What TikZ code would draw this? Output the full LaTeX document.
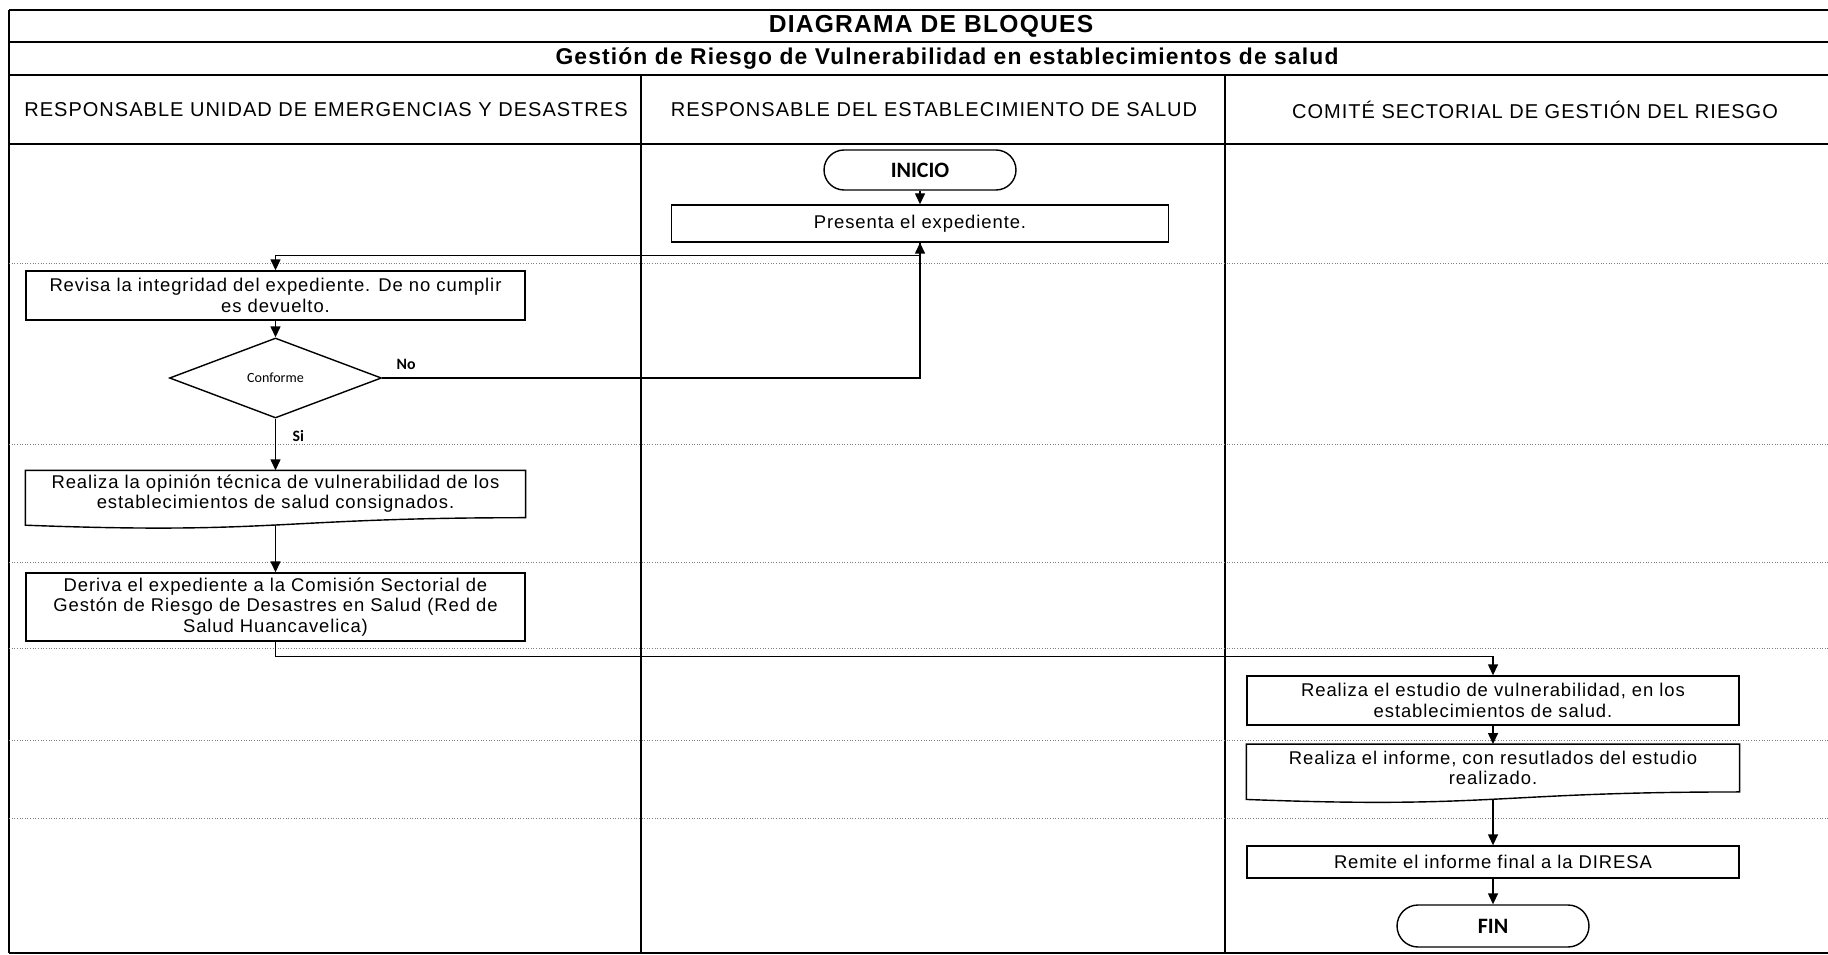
\documentclass[tikz,border=0pt]{standalone}
\usepackage{fontspec}
\setmainfont[LetterSpace=5]{Liberation Sans}
\newfontfamily\calibri{Carlito}
\usetikzlibrary{shapes.geometric,arrows.meta,calc}

\tikzstyle{line} = [draw, line width=0.8pt]
\tikzstyle{flecha} = [line, -{Triangle[length=2.2mm,width=2mm]}]
\tikzstyle{carril} = [draw, gray, densely dotted, line width=0.5pt]
\tikzstyle{proceso} = [draw, line width=0.8pt, align=center, inner sep=2pt, font=\fontsize{10.5}{11.5}\selectfont]
\tikzstyle{documento} = [proceso, draw=none]
\tikzstyle{terminal} = [draw, line width=0.8pt, rounded corners=0.4cm, minimum width=3.84cm, minimum height=0.8cm, font=\calibri\bfseries\fontsize{12.5}{14}\selectfont]
\tikzstyle{decision} = [draw, diamond, aspect=2.65, inner sep=0pt, line width=0.8pt, minimum width=4.24cm, minimum height=1.6cm, font=\calibri\fontsize{8}{9}\selectfont]
\tikzstyle{cabecera} = [font=\fontsize{11.4}{13}\selectfont]
\tikzstyle{etiqueta} = [font=\calibri\bfseries\fontsize{9}{10}\selectfont]

% caja con el borde inferior ondulado
\newcommand{\ondaabajo}[1]{%
  \draw[line] (#1.north west) -- (#1.north east) -- (#1.south east)
    .. controls (#1.south) and ($(#1.south)+(0,-17)$) .. ($(#1.south west)+(0,-7.5)$) -- cycle;}

\begin{document}
\begin{tikzpicture}[x=0.02cm,y=0.02cm]
\useasboundingbox (0,0) rectangle (1828,-955);
%marco
\draw[line] (9,-10) -- (1828,-10);
\draw[line] (9,-42) -- (1828,-42);
\draw[line] (9,-75) -- (1828,-75);
\draw[line] (9,-144) -- (1828,-144);
\draw[line] (9,-953) -- (1828,-953);
\draw[line] (9,-10) -- (9,-953);
\draw[line] (641,-75) -- (641,-953);
\draw[line] (1225,-75) -- (1225,-953);
%carriles
\foreach \y in {263,444,562,648,740,818}
  \path[carril] (9,-\y) -- (1828,-\y);

\node[font=\bfseries\fontsize{14}{16}\selectfont] (titulo) at (931,-26) {DIAGRAMA DE BLOQUES};
\node[font=\bfseries\fontsize{13}{15}\selectfont] (subtitulo) at (947,-58.5) {Gestión de Riesgo de Vulnerabilidad en establecimientos de salud};
\node[cabecera] (unidad) at (326,-110) {RESPONSABLE UNIDAD DE EMERGENCIAS Y DESASTRES};
\node[cabecera] (establecimiento) at (934,-110) {RESPONSABLE DEL ESTABLECIMIENTO DE SALUD};
\node[cabecera] (comite) at (1535,-110) {COMITÉ SECTORIAL DE GESTIÓN DEL RIESGO};

\node[terminal] (inicio) at (920,-170) {INICIO};
\node[proceso, minimum width=9.94cm, minimum height=0.74cm] (presenta) at (920,-223.5) {Presenta el expediente.};
\node[proceso, minimum width=9.98cm, minimum height=0.98cm] (revisa) at (275.5,-295.5) {Revisa la integridad del expediente. De no cumplir\\es devuelto.};
\node[decision] (conforme) at (275.5,-378) {Conforme};
\node[documento, minimum width=9.98cm, minimum height=0.92cm] (opinion) at (275.5,-494) {Realiza la opinión técnica de vulnerabilidad de los\\establecimientos de salud consignados.};
\ondaabajo{opinion}
\coordinate (opinionfondo) at ($(opinion.south)+(0,-7.3)$);
\node[proceso, minimum width=9.98cm, minimum height=1.36cm] (deriva) at (275.5,-607) {Deriva el expediente a la Comisión Sectorial de\\Gestón de Riesgo de Desastres en Salud (Red de\\Salud Huancavelica)};
\node[proceso, minimum width=9.84cm, minimum height=0.98cm] (estudio) at (1493,-700.5) {Realiza el estudio de vulnerabilidad, en los\\establecimientos de salud.};
\node[documento, minimum width=9.84cm, minimum height=0.93cm] (informe) at (1493,-768) {Realiza el informe, con resutlados del estudio\\realizado.};
\ondaabajo{informe}
\coordinate (informefondo) at ($(informe.south)+(0,-7.3)$);
\node[proceso, minimum width=9.84cm, minimum height=0.64cm] (remite) at (1493,-862) {Remite el informe final a la DIRESA};
\node[terminal, minimum height=0.84cm, rounded corners=0.42cm] (fin) at (1493,-926) {FIN};

%flechas
\draw[flecha] (inicio) -- (presenta);
\draw[flecha] (presenta.south) -- ++(0,-13) -| (revisa.north);
\draw[flecha] (revisa) -- (conforme);
\draw[flecha] (conforme.east) node[etiqueta, anchor=south west, xshift=0.16cm, yshift=0.03cm] {No} -| (presenta.south);
\draw[flecha] (conforme) -- node[etiqueta, pos=0.34, right, xshift=6pt] {Si} (opinion);
\draw[flecha] (opinionfondo) -- (deriva);
\draw[flecha] (deriva.south) -- ++(0,-15) -| (estudio.north);
\draw[flecha] (estudio) -- (informe);
\draw[flecha] (informefondo) -- (remite);
\draw[flecha] (remite) -- (fin);
\end{tikzpicture}
\end{document}
